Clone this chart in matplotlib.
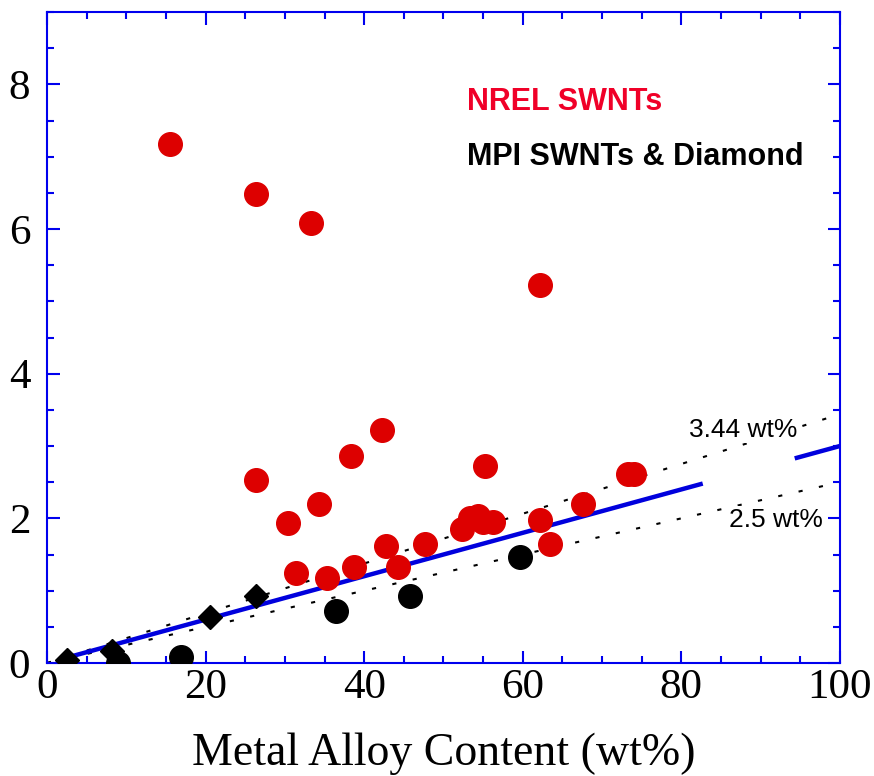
import numpy as np
import matplotlib
matplotlib.use("Agg")
import matplotlib.pyplot as plt
from matplotlib.ticker import MultipleLocator

# NREL SWNTs (red circles)
nrel_x = [15.5, 26.4, 33.3, 62.2, 26.4, 42.2, 38.3, 55.2, 30.4, 34.3, 31.4, 35.3, 38.7,
          42.7, 44.3, 47.7, 52.3, 53.3, 54.4, 55.0, 56.2, 62.2, 63.4, 67.6, 73.3, 74.0]
nrel_y = [7.18, 6.48, 6.09, 5.22, 2.53, 3.22, 2.86, 2.72, 1.93, 2.20, 1.24, 1.17, 1.33,
          1.62, 1.33, 1.64, 1.85, 2.00, 2.03, 1.95, 1.95, 1.98, 1.64, 2.20, 2.61, 2.61]

# MPI SWNTs (black circles)
mpi_x = [9.0, 16.9, 36.4, 45.8, 59.6]
mpi_y = [0.0, 0.08, 0.72, 0.93, 1.46]

# MPI Diamond (black diamonds)
dia_x = [2.5, 8.2, 20.6, 26.4]
dia_y = [0.04, 0.17, 0.64, 0.93]

# reference lines, wt% per metal content
upper_wt = 3.44
lower_wt = 2.5
fit_wt = 3.0

fig = plt.figure(figsize=(8.74, 7.76), dpi=100)
ax = fig.add_axes([0.0538, 0.1456, 0.9072, 0.8389])

xx = np.linspace(0, 100, 201)
ax.plot(xx, upper_wt / 100 * xx, color="black", lw=1.5, ls=(0, (2, 8)), zorder=1)
ax.plot(xx, lower_wt / 100 * xx, color="black", lw=1.5, ls=(0, (2, 8)), zorder=1)

# fitted line has a small break near the labels
xf = np.linspace(2, 100, 981)
yf = fit_wt / 100 * xf
yf[(xf > 82.7) & (xf < 94.3)] = np.nan
ax.plot(xf, yf, color="#0000dd", lw=3.2, solid_capstyle="butt", zorder=2)

ax.plot(nrel_x, nrel_y, "o", color="#dd0000", ms=17, mec="#dd0000", zorder=3)
ax.plot(mpi_x, mpi_y, "o", color="black", ms=17, zorder=3)
ax.plot(dia_x, dia_y, "D", color="black", ms=12.5, zorder=3)

ax.text(81.0, 3.22, "3.44 wt%", fontsize=19, family="Liberation Sans", ha="left", va="center",
        bbox=dict(facecolor="white", edgecolor="none", pad=1), zorder=4)
ax.text(86.0, 1.98, "2.5 wt%", fontsize=19, family="Liberation Sans", ha="left", va="center",
        bbox=dict(facecolor="white", edgecolor="none", pad=1), zorder=4)

ax.text(53.0, 7.75, "NREL SWNTs", fontsize=22, fontweight="bold", color="#f00028",
        family="Liberation Sans", ha="left", va="center")
ax.text(53.0, 7.0, "MPI SWNTs & Diamond", fontsize=22, fontweight="bold", color="black",
        family="Liberation Sans", ha="left", va="center")

ax.set_xlim(0, 100)
ax.set_ylim(0, 9)
ax.xaxis.set_major_locator(MultipleLocator(20))
ax.xaxis.set_minor_locator(MultipleLocator(5))
ax.yaxis.set_major_locator(MultipleLocator(2))
ax.yaxis.set_minor_locator(MultipleLocator(0.5))

for s in ax.spines.values():
    s.set_color("#0000ee")
    s.set_linewidth(1.5)
ax.tick_params(which="both", direction="in", top=True, right=True, color="#0000ee",
               width=1.5, labelsize=31, labelfontfamily="Liberation Serif", pad=4)
ax.tick_params(which="major", length=9)
ax.tick_params(which="minor", length=5)
ax.tick_params(axis="y", pad=12)

ax.set_xlabel("Metal Alloy Content (wt%)", fontsize=33, family="Liberation Serif", labelpad=18)

fig.savefig("out.png", dpi=100)
